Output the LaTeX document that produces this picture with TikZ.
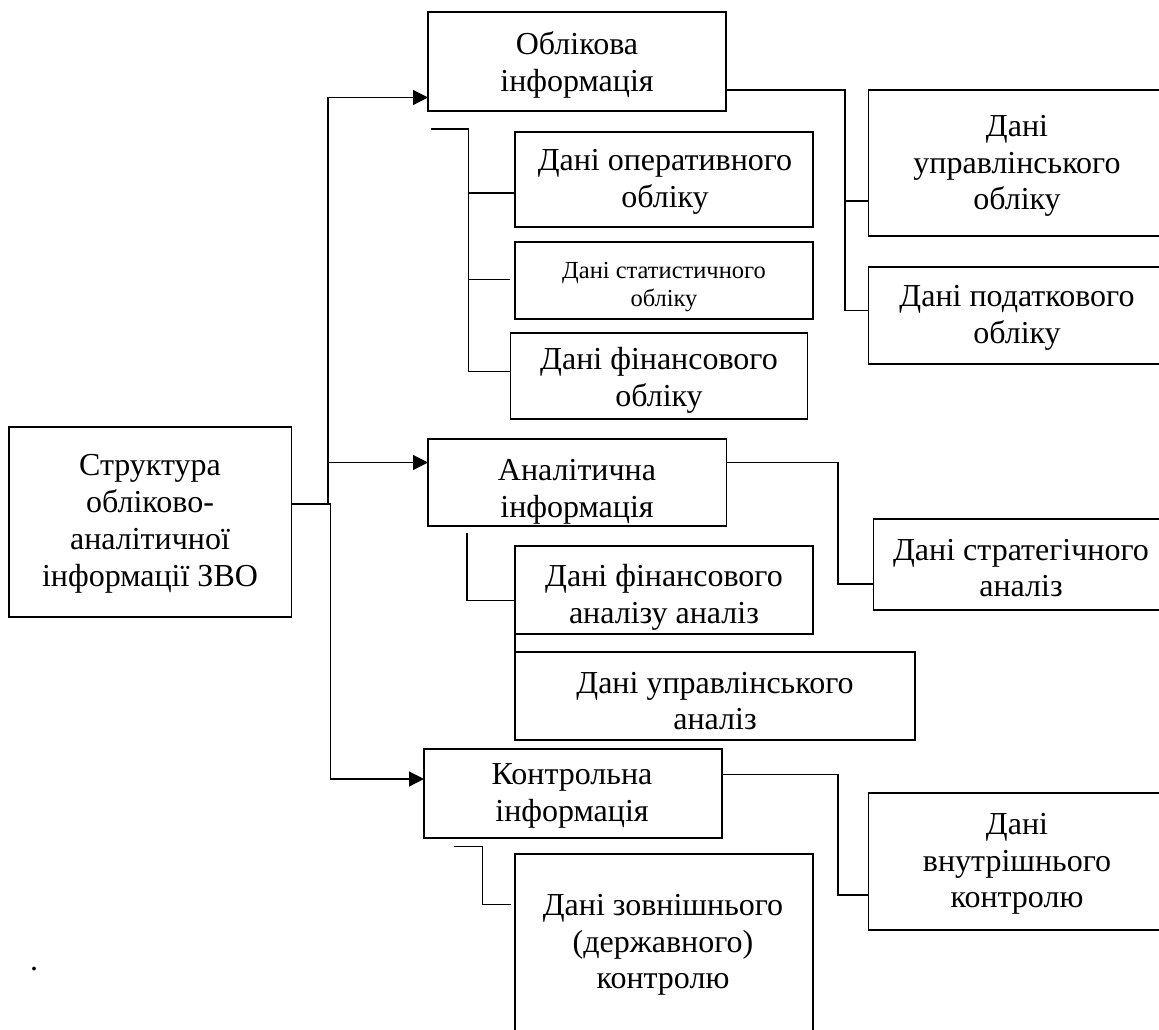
\documentclass[tikz,border=0pt]{standalone}
\usepackage{fontspec}
\setmainfont{Liberation Serif}
\usetikzlibrary{arrows.meta}
\tikzset{
  box/.style={draw, line width=1.2pt, inner sep=0pt, outer sep=0pt, rectangle},
  conn/.style={line width=1.2pt},
  arr/.style={line width=1.2pt, -{Triangle[length=15pt,width=15pt]}},
  txt/.style={align=center, inner sep=0pt, font=\fontsize{32}{36.8}\selectfont},
  smalltxt/.style={align=center, inner sep=0pt, font=\fontsize{24.5}{28.3}\selectfont}
}
\newcommand\mkbox[5]{\node[box, minimum width={#4-#2}, minimum height={#5-#3}] (#1) at ({(#2+#4)/2},{(#3+#5)/2}) {};}
\begin{document}
\begin{tikzpicture}[x=1pt,y=-1pt]
\useasboundingbox (0,0) rectangle (1159,1030);
\clip (0,0) rectangle (1159,1030);
% boxes
\mkbox{root}{9}{427}{291.5}{617}
\mkbox{obl}{428}{12}{726}{111}
\mkbox{oper}{515}{132}{813}{227}
\mkbox{stat}{515}{242}{813}{319}
\mkbox{fin}{510.5}{333}{807.5}{419}
\mkbox{upr}{868.6}{90}{1170}{236}
\mkbox{pod}{868.6}{267}{1170}{364}
\mkbox{anal}{428}{439}{726.5}{526}
\mkbox{finan}{515}{546}{813}{634}
\mkbox{upran}{515}{652}{915}{740}
\mkbox{strat}{873.4}{519}{1170}{610}
\mkbox{kontr}{424}{749}{722}{838}
\mkbox{vnut}{868.6}{793}{1170}{930}
\mkbox{zovn}{515}{854}{813}{1060}
% texts
\node[txt] (troot) at (150,524) {Структура\\обліково-\\аналітичної\\інформації ЗВО};
\node[txt] (tobl) at (577,65) {Облікова\\інформація};
\node[txt] (toper) at (665,182) {Дані оперативного\\обліку};
\begin{scope}
\clip (stat.south west) rectangle (stat.north east);
\node[smalltxt] (tstat) at (664,287) {Дані статистичного\\обліку};
\end{scope}
\node[txt] (tfin) at (659,380) {Дані фінансового\\обліку};
\node[txt] (tupr) at (1017,166) {Дані\\управлінського\\обліку};
\node[txt] (tpod) at (1017,318) {Дані податкового\\обліку};
\begin{scope}
\clip (anal.south west) rectangle (anal.north east);
\node[txt] (tanal) at (577,492) {Аналітична\\інформація};
\end{scope}
\begin{scope}
\clip (finan.south west) rectangle (finan.north east);
\node[txt] (tfinan) at (664,597) {Дані фінансового\\аналізу аналіз};
\end{scope}
\node[txt] (tupran) at (715,701) {Дані управлінського\\аналіз};
\node[txt] (tstrat) at (1021,568) {Дані стратегічного\\аналіз};
\node[txt] (tkontr) at (572,796) {Контрольна\\інформація};
\node[txt] (tvnut) at (1017,864) {Дані\\внутрішнього\\контролю};
\node[txt] (tzovn) at (663,945) {Дані зовнішнього\\(державного)\\контролю};
\node[txt] (dot) at (34,969) {.};
% trunk from root
\coordinate (jt) at (328,504);
\coordinate (jb) at (330.5,504);
\draw[conn] ([yshift=18pt]root.east) -- (jb);
\coordinate (oa) at ([yshift=-36pt]obl.west);
\coordinate (aa) at ([yshift=20pt]anal.west);
\coordinate (ka) at ([yshift=14.5pt]kontr.west);
\draw[arr] (jt) |- (oa);
\draw[arr] (jt |- aa) -- (aa);
\draw[arr] (jb) |- (ka);
% Облікова -> right group
\coordinate (ou) at ([yshift=-38pt]upr.west);
\coordinate (op) at ([yshift=4.8pt]pod.west);
\draw[conn] ([yshift=-28.5pt]obl.east) -| ([xshift=-23.6pt]op) -- (op);
\draw[conn] ([xshift=-23.6pt]ou) -- (ou);
% Облікова bracket (left group)
\coordinate (bt) at ([xshift=3pt,yshift=-18pt]obl.south west);
\draw[conn] (bt) -| ([xshift=-41.8pt,yshift=4.3pt]fin.west) -- ([yshift=4.3pt]fin.west);
\draw[conn] ([xshift=-46.3pt,yshift=-13.5pt]oper.west) -- ([yshift=-13.5pt]oper.west);
\draw[conn] ([xshift=-46.3pt,yshift=1.2pt]stat.west) -- ([xshift=-5pt,yshift=1.2pt]stat.west);
% Аналітична -> стратегічного
\draw[conn] ([yshift=20pt]anal.east) -| ([xshift=-35.5pt,yshift=-19.5pt]strat.west) -- ([yshift=-19.5pt]strat.west);
% Аналітична bracket
\draw[conn] ([xshift=39pt,yshift=-6.7pt]anal.south west) |- ([yshift=-10.3pt]finan.west);
\draw[conn] (finan.south west) -- (upran.north west);
% Контрольна -> внутрішнього
\draw[conn] ([yshift=19.2pt]kontr.east) -| ([xshift=-30.6pt,yshift=-33.5pt]vnut.west) -- ([yshift=-33.5pt]vnut.west);
% Контрольна bracket
\draw[conn] ([xshift=30.3pt,yshift=-8.7pt]kontr.south west) -| ([xshift=-32.2pt,yshift=52.7pt]zovn.west) -- ([xshift=-4.5pt,yshift=52.7pt]zovn.west);
\end{tikzpicture}
\end{document}
